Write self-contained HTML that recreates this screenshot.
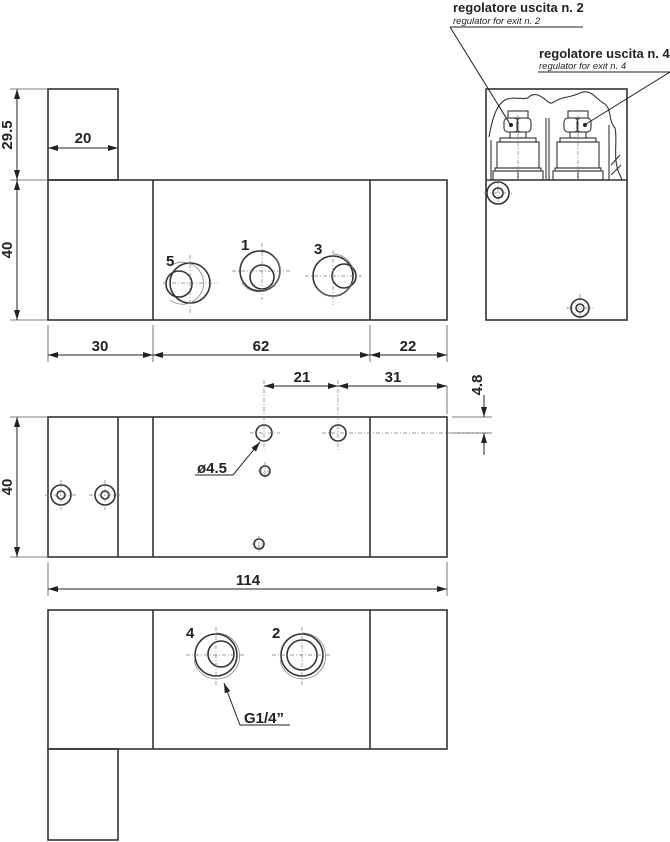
<!DOCTYPE html>
<html><head><meta charset="utf-8"><style>
body{margin:0;background:#fff}
svg{display:block}
text{font-family:"Liberation Sans",Arial,sans-serif;font-weight:bold;fill:#222}
.it{font-style:italic;font-weight:normal}
</style></head><body>
<svg width="670" height="842" viewBox="0 0 670 842" xmlns="http://www.w3.org/2000/svg">
<defs>
<marker id="a" viewBox="0 0 10 6" refX="10" refY="3" markerWidth="10" markerHeight="6" orient="auto-start-reverse" markerUnits="userSpaceOnUse"><path d="M0,0 L10,3 L0,6 z" fill="#222"/></marker>
</defs>
<g fill="none" stroke="#333" stroke-width="1.6">
<rect x="48" y="89" width="70" height="91"/>
<rect x="48" y="180" width="399" height="140"/>
<line x1="153" y1="180" x2="153" y2="320"/>
<line x1="370" y1="180" x2="370" y2="320"/>
<circle cx="190" cy="283" r="20"/><circle cx="179" cy="284" r="13"/>
<circle cx="260" cy="271" r="20"/><circle cx="262" cy="277" r="12"/>
<circle cx="333" cy="276" r="20"/><circle cx="344" cy="276" r="12"/>
<rect x="48" y="417" width="399" height="140"/>
<line x1="118" y1="417" x2="118" y2="557"/>
<line x1="153" y1="417" x2="153" y2="557"/>
<line x1="370" y1="417" x2="370" y2="557"/>
<circle cx="264" cy="433" r="8"/><circle cx="338" cy="433" r="8"/>
<circle cx="265" cy="471" r="5"/><circle cx="259" cy="544" r="5"/>
<circle cx="61" cy="495" r="10"/><circle cx="61" cy="495" r="4"/>
<circle cx="105" cy="495" r="10"/><circle cx="105" cy="495" r="4"/>
<rect x="48" y="610" width="399" height="139"/>
<line x1="153" y1="610" x2="153" y2="749"/>
<line x1="370" y1="610" x2="370" y2="749"/>
<rect x="48" y="749" width="70" height="91"/>
<circle cx="216" cy="655" r="21"/><circle cx="221" cy="654" r="13"/>
<circle cx="302" cy="655" r="21"/><circle cx="302" cy="655" r="15"/>
<rect x="486" y="89" width="141" height="231"/>
<line x1="486" y1="180" x2="627" y2="180"/>
<circle cx="498" cy="193" r="11"/><circle cx="498" cy="193" r="5"/>
<circle cx="580" cy="308" r="9"/><circle cx="580" cy="308" r="4"/>
</g>
<g fill="none" stroke="#777" stroke-width="0.7">
<path d="M172,265 A21,21 0 1 1 170,300"/>
<path d="M262,250 A21,21 0 1 1 242,283"/>
<path d="M333,254 A21,21 0 1 1 313,282"/>
<path d="M216,633 A23,23 0 1 1 194,660"/>
<path d="M302,633 A23,23 0 1 1 280,660"/>
</g>
<g fill="none" stroke="#333" stroke-width="1.1">
<path d="M489,137 C492,120 496,105 505,100 C515,95 525,102 530,96 C540,90 548,105 552,103 C562,96 570,98 580,93 C592,88 596,100 605,104 C612,110 608,120 615,128 C618,140 612,160 620,175 L622,180"/>
<line x1="546" y1="118" x2="546" y2="180"/><line x1="549" y1="118" x2="549" y2="180"/>
<line x1="491" y1="140" x2="491" y2="180"/><line x1="609" y1="125" x2="609" y2="180"/>
<path d="M611,165 L620,155 M611,175 L621,165"/>
<g id="f">
<rect x="508" y="111" width="20" height="7"/>
<rect x="504" y="118" width="14" height="14" rx="4"/>
<rect x="517" y="118" width="14" height="14" rx="4"/>
<rect x="510" y="132" width="16" height="6"/>
<rect x="500" y="138" width="36" height="4"/>
<rect x="497" y="142" width="42" height="26"/>
<rect x="495" y="168" width="46" height="3"/>
<rect x="493" y="171" width="50" height="9"/>
<line x1="518" y1="171" x2="518" y2="180"/>
</g>
<use href="#f" x="60"/>
</g>
<circle cx="511" cy="125" r="2" fill="#222"/><circle cx="585" cy="125" r="2" fill="#222"/>
<g stroke="#777" stroke-width="0.7" stroke-dasharray="4,2,1,2" fill="none">
<path d="M163,283 H218 M190,255 V313"/>
<path d="M232,271 H290 M262,243 V300"/>
<path d="M305,276 H362 M333,250 V305"/>
<path d="M264,380 V450 M338,380 V450 M250,433 H280 M322,433 H490"/>
<path d="M258,471 H273 M265,462 V480 M252,544 H266 M259,536 V552"/>
<path d="M45,495 H76 M61,480 V510 M89,495 H120 M105,480 V510"/>
<path d="M186,655 H246 M216,627 V685 M272,655 H332 M302,627 V685"/>
<path d="M484,193 H512 M498,180 V207 M566,308 H594 M580,294 V320"/>
<path d="M518,115 V180 M578,115 V180"/>
</g>
<g stroke="#555" stroke-width="0.8" fill="none">
<path d="M10,89 H48 M10,180 H48 M10,320 H48"/>
<path d="M48,325 V362 M153,325 V362 M370,325 V362 M447,325 V362"/>
<path d="M48,562 V596 M447,562 V596 M447,386 V414"/>
<path d="M10,417 H48 M10,557 H48 M452,417 H492 M452,433 H492"/>
</g>
<g stroke="#222" stroke-width="1" fill="none" marker-start="url(#a)" marker-end="url(#a)">
<line x1="17" y1="89" x2="17" y2="180"/>
<line x1="17" y1="180" x2="17" y2="320"/>
<line x1="48" y1="148" x2="118" y2="148"/>
<line x1="48" y1="355" x2="153" y2="355"/>
<line x1="153" y1="355" x2="370" y2="355"/>
<line x1="370" y1="355" x2="447" y2="355"/>
<line x1="264" y1="386" x2="338" y2="386"/>
<line x1="338" y1="386" x2="447" y2="386"/>
<line x1="17" y1="417" x2="17" y2="557"/>
<line x1="48" y1="589" x2="447" y2="589"/>
</g>
<g stroke="#222" stroke-width="1" fill="none">
<path d="M484,395 V417" marker-end="url(#a)"/>
<path d="M484,455 V433" marker-end="url(#a)"/>
<path d="M195,475 H233 L260,442" marker-end="url(#a)"/>
<path d="M290,725 H240 L224,683" marker-end="url(#a)"/>
<path d="M450,27 H583 M450,27 L510,124"/>
<path d="M538,72 H670 M670,72 L586,124"/>
</g>
<g font-size="15">
<text x="83" y="143" text-anchor="middle">20</text>
<text x="100" y="351" text-anchor="middle">30</text>
<text x="261" y="351" text-anchor="middle">62</text>
<text x="408" y="351" text-anchor="middle">22</text>
<text x="302" y="382" text-anchor="middle">21</text>
<text x="393" y="382" text-anchor="middle">31</text>
<text x="248" y="585" text-anchor="middle">114</text>
<text x="197" y="473">ø4.5</text>
<text x="244" y="723">G1/4”</text>
<text x="166" y="266">5</text><text x="241" y="250">1</text><text x="314" y="254">3</text>
<text x="186" y="638">4</text><text x="272" y="638">2</text>
<text transform="translate(12,135) rotate(-90)" text-anchor="middle">29.5</text>
<text transform="translate(12,250) rotate(-90)" text-anchor="middle">40</text>
<text transform="translate(12,487) rotate(-90)" text-anchor="middle">40</text>
<text transform="translate(482,385) rotate(-90)" text-anchor="middle">4.8</text>
</g>
<text x="453" y="12" font-size="13">regolatore uscita n. 2</text>
<text x="453" y="24" font-size="9.5" class="it">regulator for exit n. 2</text>
<text x="539" y="58" font-size="13">regolatore uscita n. 4</text>
<text x="539" y="69" font-size="9.5" class="it">regulator for exit n. 4</text>
</svg>
</body></html>
